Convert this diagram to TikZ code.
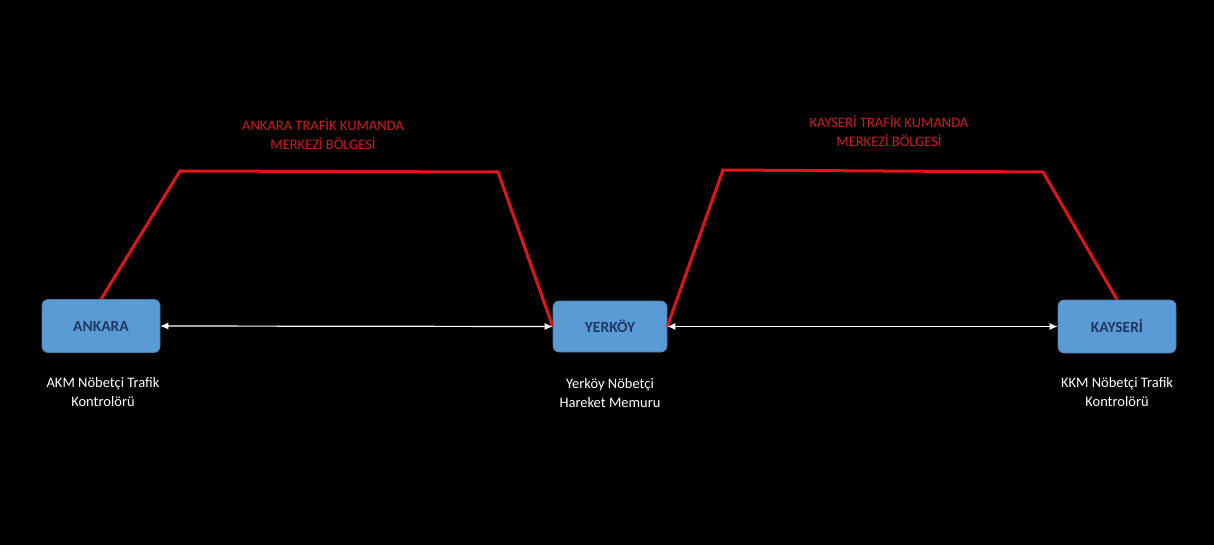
\documentclass[tikz,border=0pt]{standalone}
\usepackage{fontspec}
\setmainfont{Carlito}
\usetikzlibrary{arrows.meta}
\definecolor{boxblue}{HTML}{5B9BD5}
\definecolor{navy}{HTML}{1F3864}
\definecolor{linered}{HTML}{E2141B}
\definecolor{textred}{HTML}{D01A1F}
\begin{document}
\begin{tikzpicture}[x=1pt,y=-1pt,
  station/.style={draw=boxblue!80!black,line width=0.6pt,fill=boxblue,rounded corners=6pt,
    minimum height=53pt,text=navy,font=\fontsize{15.5}{17}\selectfont\bfseries,inner sep=0pt},
  caption/.style={text=white,align=center,font=\fontsize{14.5}{19}\selectfont},
  zone/.style={text=textred,align=center,font=\fontsize{14.5}{19}\selectfont},
  boundary/.style={draw=linered,line width=3pt,line join=miter},
  link/.style={draw=white,line width=1.2pt,{Latex[length=8pt,width=7pt]}-{Latex[length=8pt,width=7pt]}}]
\fill[black] (0,0) rectangle (1214,545);
\useasboundingbox (0,0) rectangle (1214,545);

\node[station,minimum width=118pt] (ank) at (101,326) {ANKARA};
\node[station,minimum width=114pt,minimum height=51pt] (yer) at (610,326.5) {YERKÖY};
\node[station,minimum width=118pt] (kay) at (1117,326.5) {KAYSERİ};

\coordinate (a1) at (180,171);
\coordinate (a2) at (498,172);
\coordinate (k1) at (723,170);
\coordinate (k2) at (1043,172);

\draw[boundary] (ank.north) -- (a1) -- (a2) -- (yer.west);
\draw[boundary] (yer.east) -- (k1) -- (k2) -- (kay.north);

\draw[link] (ank.east) -- (yer.west);
\draw[link] (yer.east) -- (kay.west);

\node[zone] (zl) at (323,134) {ANKARA TRAFİK KUMANDA\\MERKEZİ BÖLGESİ};
\node[zone] (zr) at (889,131) {KAYSERİ TRAFİK KUMANDA\\MERKEZİ BÖLGESİ};

\node[caption] (cl) at (103,392) {AKM Nöbetçi Trafik\\Kontrolörü};
\node[caption] (cm) at (610,393) {Yerköy Nöbetçi\\Hareket Memuru};
\node[caption] (cr) at (1117,392) {KKM Nöbetçi Trafik\\Kontrolörü};
\end{tikzpicture}
\end{document}
